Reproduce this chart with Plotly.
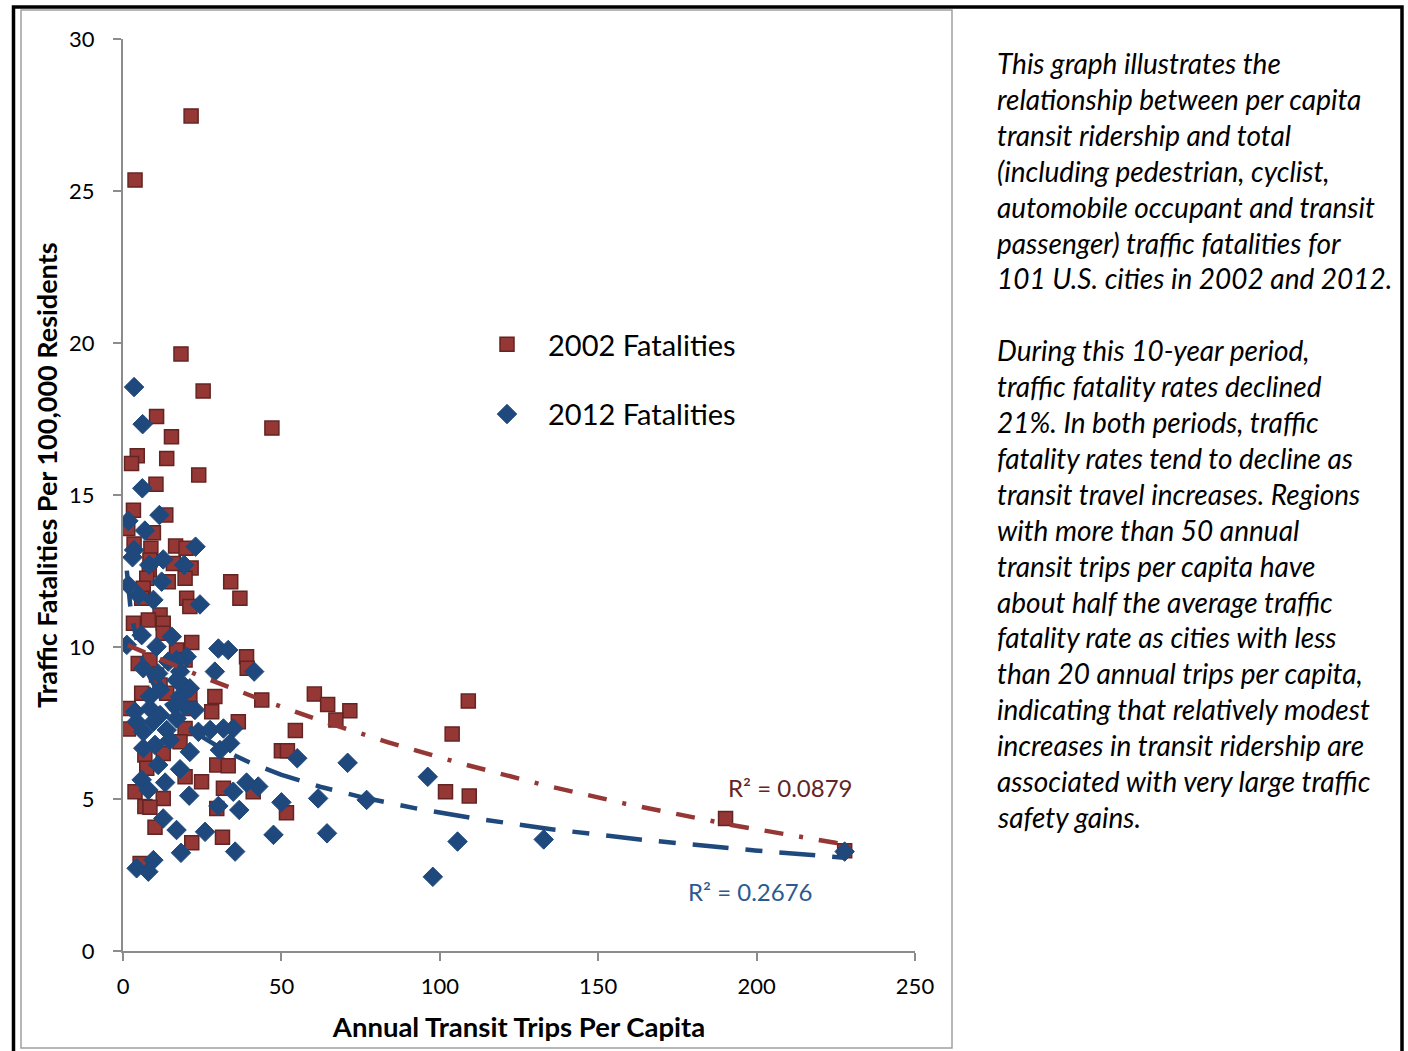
import numpy as np
import plotly.graph_objects as go

# ---- 2002 fatalities: annual transit trips per capita vs fatalities per 100,000
trips_2002 = [21.5, 3.8, 18.3, 25.3, 47.0, 10.6, 15.3, 4.5, 2.7, 13.8, 23.9, 10.4, 3.3, 13.5,
              1.5, 9.6, 3.5, 8.8, 16.6, 19.9, 8.5, 15.9, 21.5, 8.3, 19.6, 14.3, 7.5, 6.4,
              34.0, 36.9, 20.1, 21.1, 5.9, 11.7, 3.3, 8.0, 12.7, 12.7, 21.7, 16.9, 4.8, 8.5,
              19.6, 39.0, 39.2, 10.6, 11.7, 5.9, 13.8, 21.1, 29.0, 43.8, 1.7, 28.0, 21.1,
              36.4, 1.7, 19.6, 18.0, 6.9, 12.7, 29.6, 33.2, 7.5, 19.6, 24.8, 3.8, 31.7,
              41.1, 12.7, 6.9, 8.5, 29.6, 10.1, 21.7, 31.4, 5.4, 60.4, 64.6, 71.6, 67.2,
              54.4, 50.0, 51.9, 109.0, 103.9, 101.8, 109.3, 190.2, 51.6, 227.8]
fatal_2002 = [27.47, 25.36, 19.64, 18.42, 17.2, 17.58, 16.92, 16.29, 16.04, 16.2, 15.66, 15.35,
              14.5, 14.34, 13.9, 13.76, 13.39, 13.25, 13.32, 13.25, 12.86, 12.75, 12.6, 12.53,
              12.26, 12.15, 12.26, 11.93, 12.15, 11.6, 11.6, 11.33, 11.6, 11.05, 10.78, 10.89,
              10.78, 10.45, 10.15, 9.9, 9.46, 9.57, 9.57, 9.68, 9.3, 9.08, 8.75, 8.48, 8.48,
              8.37, 8.37, 8.26, 7.98, 7.87, 7.98, 7.54, 7.3, 7.32, 6.88, 6.45, 6.5, 6.12, 6.09,
              6.01, 5.73, 5.57, 5.24, 5.35, 5.24, 5.02, 4.75, 4.73, 4.69, 4.07, 3.56, 3.74,
              2.88, 8.45, 8.11, 7.9, 7.6, 7.25, 6.59, 6.59, 8.22, 7.14, 5.24, 5.1, 4.36, 4.55,
              3.3]

# ---- 2012 fatalities
trips_2012 = [3.5, 6.2, 6.1, 11.5, 1.7, 6.9, 3.5, 3.0, 12.7, 22.9, 8.3, 19.3, 1.7, 4.8, 12.2,
              9.6, 24.3, 5.9, 15.4, 1.2, 10.6, 30.1, 33.2, 20.1, 16.9, 14.3, 6.4, 11.1, 18.0,
              29.0, 41.4, 16.9, 19.6, 21.1, 8.5, 18.0, 16.4, 3.8, 8.5, 19.6, 11.7, 4.3, 9.6,
              16.9, 23.8, 27.5, 31.7, 34.8, 6.4, 13.8, 6.4, 21.1, 11.1, 18.0, 5.9, 13.3, 8.0,
              30.6, 33.8, 20.9, 34.8, 39.0, 42.7, 30.1, 36.7, 12.7, 16.9, 25.9, 35.4, 18.3,
              9.6, 4.3, 8.0, 55.0, 70.9, 50.0, 61.6, 76.9, 96.2, 47.5, 64.4, 105.6, 132.8,
              97.8, 227.8, 11.7, 14.8, 22.7, 10.1]
fatal_2012 = [18.55, 17.33, 15.22, 14.34, 14.15, 13.83, 13.19, 12.95, 12.88, 13.3, 12.7, 12.7,
              12.04, 11.71, 12.15, 11.55, 11.4, 10.39, 10.34, 10.07, 10.01, 9.95, 9.9, 9.68,
              9.57, 9.52, 9.3, 9.13, 9.19, 9.19, 9.19, 8.91, 8.69, 8.64, 8.37, 8.37, 8.09,
              7.87, 7.98, 8.04, 7.76, 7.54, 7.54, 7.65, 7.21, 7.27, 7.32, 7.32, 7.21, 7.27,
              6.67, 6.55, 6.12, 5.98, 5.63, 5.54, 5.30, 6.61, 6.83, 5.11, 5.24, 5.54, 5.41,
              4.77, 4.64, 4.36, 3.98, 3.92, 3.27, 3.23, 2.99, 2.72, 2.61, 6.34, 6.19, 4.89,
              5.02, 4.97, 5.73, 3.82, 3.87, 3.6, 3.67, 2.44, 3.27, 8.59, 6.94, 7.93, 6.78]

# ---- fitted trendlines
exp_fit_2002 = [10.13, -0.00465]    # y = a * exp(b * x)
log_fit_2012 = [-1.8, 12.84]        # y = a * ln(x) + b
r2_labels = ["R² = 0.0879", "R² = 0.2676"]
series_names = ["2002 Fatalities", "2012 Fatalities"]

x_ticks = [0, 50, 100, 150, 200, 250]
y_ticks = [0, 5, 10, 15, 20, 25, 30]

x_title = "Annual Transit Trips Per Capita"
y_title = "Traffic Fatalities Per 100,000 Residents"

side_text = [
    "This graph illustrates the",
    "relationship between per capita",
    "transit ridership and total",
    "(including pedestrian, cyclist,",
    "automobile occupant and transit",
    "passenger) traffic fatalities for",
    "101 U.S. cities in 2002 and 2012.",
    "",
    "During this 10-year period,",
    "traffic fatality rates declined",
    "21%. In both periods, traffic",
    "fatality rates tend to decline as",
    "transit travel increases. Regions",
    "with more than 50 annual",
    "transit trips per capita have",
    "about half the average traffic",
    "fatality rate as cities with less",
    "than 20 annual trips per capita,",
    "indicating that relatively modest",
    "increases in transit ridership are",
    "associated with very large traffic",
    "safety gains.",
]

RED = "#953735"
RED_EDGE = "#632523"
BLUE = "#1F497D"
FONT = "Lato"

W, H = 1408, 1051
L, R, T, B = 123, 915, 39, 951   # plot area in page pixels


def px_x(p):
    return (p - L) / (R - L)


def px_y(p):
    return (B - p) / (B - T)


fig = go.Figure()

fig.add_trace(go.Scatter(
    x=trips_2002, y=fatal_2002, mode="markers", name=series_names[0],
    legendgroup="a",
    marker=dict(symbol="square", size=14, color=RED,
                line=dict(color=RED_EDGE, width=1.5)),
))
fig.add_trace(go.Scatter(
    x=trips_2012, y=fatal_2012, mode="markers", name=series_names[1],
    legendgroup="b",
    marker=dict(symbol="diamond", size=15, color=BLUE,
                line=dict(color=BLUE, width=1)),
))

# trendlines span each series' own x extent
xr = np.linspace(min(trips_2002), max(trips_2002), 400)
yr = exp_fit_2002[0] * np.exp(exp_fit_2002[1] * xr)
fig.add_trace(go.Scatter(
    x=xr, y=yr, mode="lines", showlegend=False, hoverinfo="skip",
    line=dict(color=RED, width=4.5, dash="19px,16px,19px,16px,4px,16px"),
))
xb = np.linspace(min(trips_2012), max(trips_2012), 400)
yb = log_fit_2012[0] * np.log(xb) + log_fit_2012[1]
fig.add_trace(go.Scatter(
    x=xb, y=yb, mode="lines", showlegend=False, hoverinfo="skip",
    line=dict(color=BLUE, width=4.5, dash="36px,17px,17px,17px"),
))

annotations = [
    dict(x=px_x(790), y=px_y(787), xref="paper", yref="paper", text=r2_labels[0],
         xanchor="center", yanchor="middle",
         showarrow=False, font=dict(family=FONT, size=24, color=RED_EDGE)),
    dict(x=px_x(750), y=px_y(891), xref="paper", yref="paper", text=r2_labels[1],
         xanchor="center", yanchor="middle",
         showarrow=False, font=dict(family=FONT, size=24, color="#2C5A8F")),
    # vertical axis title, centred a little above the plot-area midpoint
    dict(x=px_x(46), y=px_y(475), xref="paper", yref="paper", text="<b>" + y_title + "</b>",
         textangle=-90, xanchor="center", yanchor="middle", showarrow=False,
         font=dict(family=FONT, size=27, color="black")),
]

# explanatory text beside the chart, one annotation per line
y0, dy = 63, 35.9
for i, line in enumerate(side_text):
    if not line:
        continue
    annotations.append(dict(
        x=px_x(995), y=px_y(y0 + i * dy), xref="paper", yref="paper",
        xanchor="left", yanchor="middle", text="<i>" + line + "</i>",
        showarrow=False, font=dict(family=FONT, size=28, color="black"),
    ))

shapes = [
    # chart-area frame
    dict(type="rect", xref="paper", yref="paper",
         x0=px_x(21), x1=px_x(952), y0=px_y(1048), y1=px_y(10),
         line=dict(color="#A0A0A0", width=1.5), fillcolor="rgba(0,0,0,0)"),
    # outer page frame
    dict(type="rect", xref="paper", yref="paper",
         x0=px_x(13.5), x1=px_x(1402), y0=px_y(1065), y1=px_y(7),
         line=dict(color="black", width=3.5), fillcolor="rgba(0,0,0,0)"),
]

axis_common = dict(
    showgrid=False, zeroline=False, showline=True, linecolor="#8C8C8C", linewidth=2,
    ticks="outside", ticklen=8, tickwidth=2, tickcolor="#8C8C8C",
    tickfont=dict(family=FONT, size=22, color="black"),
)

fig.update_layout(
    width=W, height=H,
    margin=dict(l=L, r=W - R, t=T, b=H - B, autoexpand=False),
    paper_bgcolor="white", plot_bgcolor="white",
    xaxis=dict(range=[0, 250], tickvals=x_ticks, ticklabelstandoff=7,
               title=dict(text="<b>" + x_title + "</b>", standoff=19,
                          font=dict(family=FONT, size=27.5, color="black")),
               **axis_common),
    yaxis=dict(range=[0, 30], tickvals=y_ticks, ticklabelstandoff=14,
               **axis_common),
    legend=dict(x=px_x(466), y=px_y(319), xanchor="left", yanchor="top",
                itemwidth=72,
                traceorder="grouped", tracegroupgap=29, bgcolor="rgba(0,0,0,0)",
                font=dict(family=FONT, size=29, color="black")),
    annotations=annotations,
    shapes=shapes,
    showlegend=True,
)

fig.write_html("out.html")
